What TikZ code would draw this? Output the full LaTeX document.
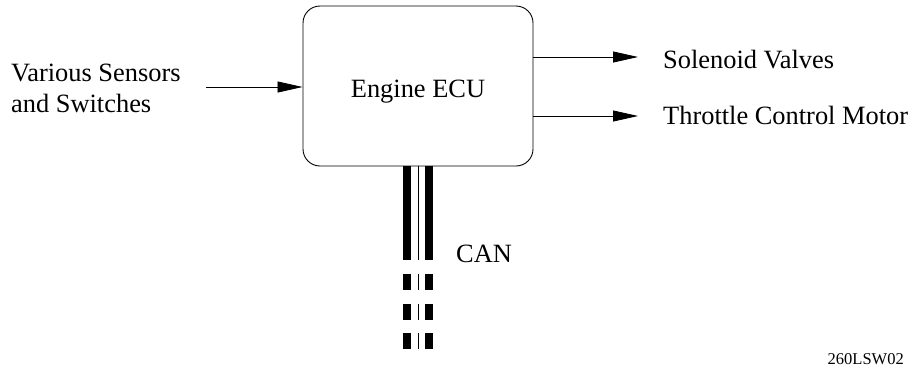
\documentclass[tikz,border=0pt]{standalone}
\usepackage{fontspec}
\setmainfont{Liberation Serif}
\usetikzlibrary{arrows.meta}
\begin{document}
\begin{tikzpicture}[x=1pt,y=-1pt,
  lbl/.style={font=\fontsize{26.4}{31}\selectfont, inner sep=0pt, anchor=base west},
  arr/.style={line width=0.8pt, -{Triangle[length=25pt,width=11pt]}},
  bar/.style={line width=8pt},
  thin/.style={line width=0.8pt}]
\useasboundingbox (0,0) rectangle (913,370);
\node[draw, line width=0.9pt, rounded corners=17pt, minimum width=230pt, minimum height=160pt, inner sep=0pt] (ecu) at (418,86) {};
\node[lbl, anchor=base] (ecutxt) at (418,97) {Engine ECU};
\node[lbl] (sens1) at (11,81) {Various Sensors};
\node[lbl] (sens2) at (11,112) {and Switches};
\node[lbl] (sol) at (663,68) {Solenoid Valves};
\node[lbl] (thr) at (663,124) {Throttle Control Motor};
\node[lbl] (can) at (456,262) {CAN};
\node[font=\fontsize{16.5}{18}\selectfont, inner sep=0pt, anchor=base east] (code) at (904,364) {260LSW02};
\coordinate (inS) at (206,87);
\coordinate (o1) at (638,57);
\coordinate (o2) at (638,116);
\draw[arr] (inS) -- (ecu.west |- inS);
\draw[arr] (ecu.east |- o1) -- (o1);
\draw[arr] (ecu.east |- o2) -- (o2);
% CAN bus
\foreach \x/\s in {407/bar,418/thin,429/bar}{
  \draw[\s] (\x,166) -- (\x,260);
  \draw[\s] (\x,274) -- (\x,290);
  \draw[\s] (\x,304) -- (\x,320);
  \draw[\s] (\x,333) -- (\x,349);
}
\end{tikzpicture}
\end{document}
